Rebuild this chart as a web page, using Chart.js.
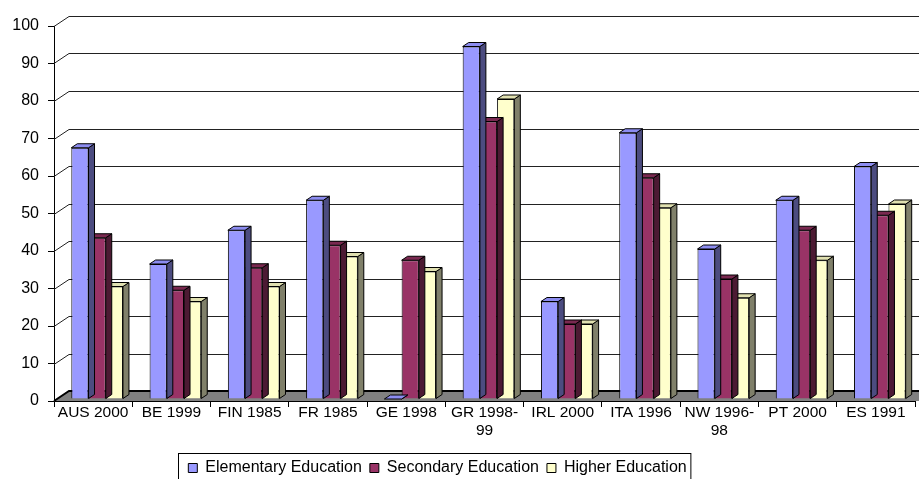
<!DOCTYPE html>
<html>
<head>
<meta charset="utf-8">
<script src="https://cdn.jsdelivr.net/npm/chart.js@4"></script>
<style>
  html, body { margin: 0; padding: 0; background: #fff; }
  #wrap { width: 919px; height: 479px; position: relative; }
</style>
</head>
<body>
<div id="wrap"><canvas id="chart"></canvas></div>
<script>
const categories = ['AUS 2000', 'BE 1999', 'FIN 1985', 'FR 1985', 'GE 1998', ['GR 1998-', '99'],
    'IRL 2000', 'ITA 1996', ['NW 1996-', '98'], 'PT 2000', 'ES 1991']
const elementary = [67, 36, 45, 53, 0, 94, 26, 71, 40, 53, 62]
const secondary = [43, 29, 35, 41, 37, 74, 20, 59, 32, 45, 49]
const higher = [30, 26, 30, 38, 34, 80, 20, 51, 27, 37, 52]
const yTicks = [0, 10, 20, 30, 40, 50, 60, 70, 80, 90, 100]

const FONT = "'Liberation Sans', Arial, sans-serif"
// depth of the back wall and of each bar
const WALL_DX = 15, WALL_DY = 10
const BAR_DX = 6, BAR_DY = 4

const faces = [
    { side: '#4c4c80', top: '#8c8cf0' },
    { side: '#4c1a33', top: '#7a2950' },
    { side: '#80806a', top: '#e0e0b0' },
]

const wallPlugin = {
    id: 'wall',
    afterLayout(chart) {
        // the legend sits a bit left of centre and lower in the original
        const lg = chart.legend
        lg.left -= 20
        lg.right -= 20
        lg.top += 7
        lg.bottom += 7
    },
    beforeDatasetsDraw(chart) {
        const { ctx, chartArea, scales } = chart
        const y = scales.y
        ctx.save()
        ctx.strokeStyle = '#222'
        ctx.lineWidth = 1
        // gridlines: diagonal from the axis, then along the back wall
        yTicks.forEach(v => {
            const py = Math.round(y.getPixelForValue(v)) + 0.5
            ctx.beginPath()
            ctx.moveTo(chartArea.left, py)
            ctx.lineTo(chartArea.left + WALL_DX, py - WALL_DY)
            ctx.lineTo(chart.width, py - WALL_DY)
            ctx.stroke()
        })
        // grey floor
        const b = chartArea.bottom
        ctx.fillStyle = '#808080'
        ctx.beginPath()
        ctx.moveTo(chartArea.left, b)
        ctx.lineTo(chartArea.left + WALL_DX, b - WALL_DY)
        ctx.lineTo(chart.width + 20, b - WALL_DY)
        ctx.lineTo(chart.width + 20, b)
        ctx.closePath()
        ctx.fill()
        ctx.strokeStyle = '#000'
        ctx.lineWidth = 2
        ctx.beginPath()
        ctx.moveTo(chartArea.left, b)
        ctx.lineTo(chartArea.left + WALL_DX, b - WALL_DY)
        ctx.lineTo(chart.width, b - WALL_DY)
        ctx.stroke()
        ctx.restore()
        // bars stand a little inside the floor
        ctx.save()
        ctx.translate(4, -2)
    },
    afterDatasetDraw(chart, args) {
        const { ctx } = chart
        const f = faces[args.index]
        ctx.save()
        ctx.strokeStyle = '#000'
        ctx.lineWidth = 1
        chart.getDatasetMeta(args.index).data.forEach(bar => {
            const l = bar.x - bar.width / 2, r = bar.x + bar.width / 2
            const t = bar.y, b = bar.base
            ctx.fillStyle = f.side
            ctx.beginPath()
            ctx.moveTo(r, t)
            ctx.lineTo(r + BAR_DX, t - BAR_DY)
            ctx.lineTo(r + BAR_DX, b - BAR_DY)
            ctx.lineTo(r, b)
            ctx.closePath()
            ctx.fill()
            ctx.stroke()
            ctx.fillStyle = f.top
            ctx.beginPath()
            ctx.moveTo(l, t)
            ctx.lineTo(l + BAR_DX, t - BAR_DY)
            ctx.lineTo(r + BAR_DX, t - BAR_DY)
            ctx.lineTo(r, t)
            ctx.closePath()
            ctx.fill()
            ctx.stroke()
        })
        ctx.restore()
    },
    afterDatasetsDraw(chart) {
        chart.ctx.restore()
    },
    afterDraw(chart) {
        const boxes = chart.legend.legendHitBoxes
        if (!boxes || !boxes.length) return
        const { ctx } = chart
        const left = Math.min(...boxes.map(h => h.left)) - 10
        const right = Math.max(...boxes.map(h => h.left + h.width)) + 4
        const top = Math.min(...boxes.map(h => h.top)) - 7
        ctx.save()
        ctx.strokeStyle = '#000'
        ctx.lineWidth = 1
        ctx.strokeRect(Math.round(left) + 0.5, Math.round(top) + 0.5, right - left, chart.height)
        ctx.restore()
    },
}

new Chart(document.getElementById('chart'), {
    type: 'bar',
    data: {
        labels: categories,
        datasets: [
            { label: 'Elementary Education', data: elementary, backgroundColor: '#9999ff' },
            { label: 'Secondary Education', data: secondary, backgroundColor: '#993366' },
            { label: 'Higher Education', data: higher, backgroundColor: '#ffffcc' },
        ],
    },
    options: {
        responsive: true,
        maintainAspectRatio: false,
        animation: false,
        devicePixelRatio: 1,
        layout: { padding: { left: 0, right: 4, top: 26, bottom: 0 } },
        datasets: {
            bar: {
                borderColor: '#000',
                borderWidth: 1,
                categoryPercentage: 0.66,
                barPercentage: 1,
            },
        },
        scales: {
            x: {
                grid: { offset: true, drawOnChartArea: false, drawTicks: true, tickLength: 6, color: '#000' },
                border: { display: true, color: '#000', width: 1 },
                ticks: { color: '#000', font: { family: FONT, size: 15.5 }, maxRotation: 0, autoSkip: false, padding: -4 },
                afterFit(s) { s.height = 44 },
            },
            y: {
                min: 0,
                max: 100,
                grid: { drawOnChartArea: false, drawTicks: true, tickLength: 6, color: '#000' },
                border: { display: true, color: '#000', width: 1 },
                ticks: { stepSize: 10, color: '#000', font: { family: FONT, size: 16 }, padding: 9 },
                afterFit(s) { s.width = 54 },
            },
        },
        plugins: {
            legend: {
                position: 'bottom',
                labels: {
                    color: '#000',
                    font: { family: FONT, size: 16 },
                    boxWidth: 9,
                    boxHeight: 9,
                    padding: 8,
                },
            },
            tooltip: { enabled: false },
        },
    },
    plugins: [wallPlugin],
})
</script>
</body>
</html>
